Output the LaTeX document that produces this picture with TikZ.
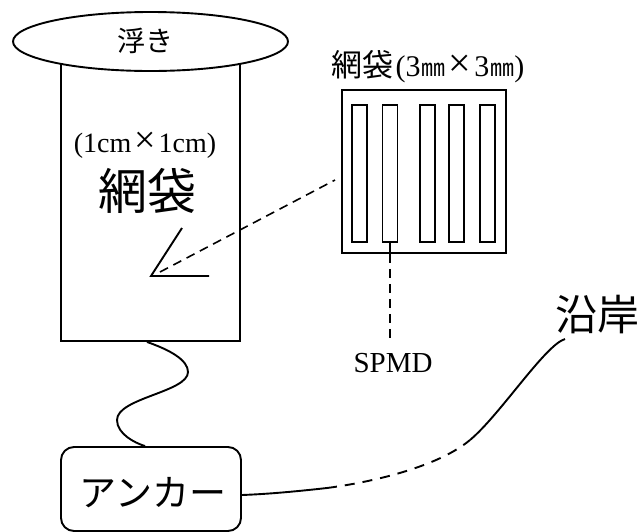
\documentclass[tikz,border=0pt]{standalone}
\usepackage{fontspec}
\setmainfont{Liberation Serif}
\newfontfamily\jp{Noto Sans CJK JP}
\usetikzlibrary{shapes.geometric}
\newcommand{\fsz}[1]{\fontsize{#1}{#1}\selectfont}
\begin{document}
\begin{tikzpicture}[x=1pt,y=-1pt,line width=1.9pt,
  lbl/.style={inner sep=0pt},
  stripbox/.style={draw,minimum width=15pt,minimum height=137pt,inner sep=0pt},
  leader/.style={line width=1.6pt,dash pattern=on 9pt off 6pt},
  coastdash/.style={line width=1.9pt,dash pattern=on 10pt off 8pt}]
\useasboundingbox (0,0) rectangle (638,531);
% big net bag
\node[draw,minimum width=179pt,minimum height=281pt,inner sep=0pt] (bag) at (150.5,200.5) {};
% float
\node[draw,fill=white,ellipse,minimum width=275pt,minimum height=59pt,inner sep=0pt] (float) at (150.5,41.5) {};
\node[lbl] (floattxt) at (145,41) {\jp\fsz{28}浮き};
% labels inside bag
\node[lbl] (size1) at (145,145) {\fsz{28}(1cm\kern3pt{\fsz{38}×}\kern3pt1cm)};
\node[lbl] (bagtxt) at (147,191) {\jp\fsz{49}網袋};
% V mark
\coordinate (va) at (182,228);
\coordinate (vtip) at (151,276);
\coordinate (vb) at (209,276);
\draw (va) -- (vtip) -- (vb);
% small net bag
\node[draw,minimum width=164pt,minimum height=163pt,inner sep=0pt] (small) at (424,171.5) {};
\node[stripbox] (s1) at (359.5,173.5) {};
\node[stripbox] (s2) at (390,173.5) {};
\node[stripbox] (s3) at (427.5,173.5) {};
\node[stripbox] (s4) at (456.5,173.5) {};
\node[stripbox] (s5) at (487.5,173.5) {};
\node[lbl] (title) at (428,67) {{\jp\fsz{31}網袋}\kern2pt{\fsz{30}(3\kern1pt{\jp\fsz{24}㎜}\kern3pt{\fsz{40}×}\kern3pt3\kern1pt{\jp\fsz{24}㎜})}};
% leader from V to small bag
\coordinate (leadstart) at (160,272);
\coordinate (leadend) at (335,180);
\draw[leader] (leadstart) -- (leadend);
% SPMD
\node[lbl] (spmd) at (393,363) {\fsz{29}SPMD};
\coordinate (spmdend) at (390,338);
\draw (s2.south) -- (s2.south |- small.south);
\draw[leader] (s2.south |- small.south) -- (spmdend);
% anchor
\node[draw,rounded corners=13pt,minimum width=180pt,minimum height=84pt,inner sep=0pt] (anchor) at (151,489) {};
\node[lbl] (anchortxt) at (153,493) {\jp\fsz{37}アンカー};
% rope
\draw ([xshift=-3.5pt]bag.south) .. controls (170,350) and (188,360) .. (188,372)
  .. controls (188,392) and (117,398) .. (117,420)
  .. controls (117,434) and (135,443) .. ([xshift=-6pt]anchor.north);
% coast
\node[lbl] (coast) at (597,315) {\jp\fsz{42}沿岸};
\coordinate (c1) at (327,488);
\coordinate (c2) at (470,440);
\coordinate (coastend) at (565,339);
\draw ([yshift=-6pt]anchor.east) .. controls (270,494) and (300,491) .. (c1);
\draw[coastdash] (c1) .. controls (380,481) and (440,465) .. (c2);
\draw (c2) .. controls (500,415) and (545,345) .. (coastend);
\end{tikzpicture}
\end{document}
